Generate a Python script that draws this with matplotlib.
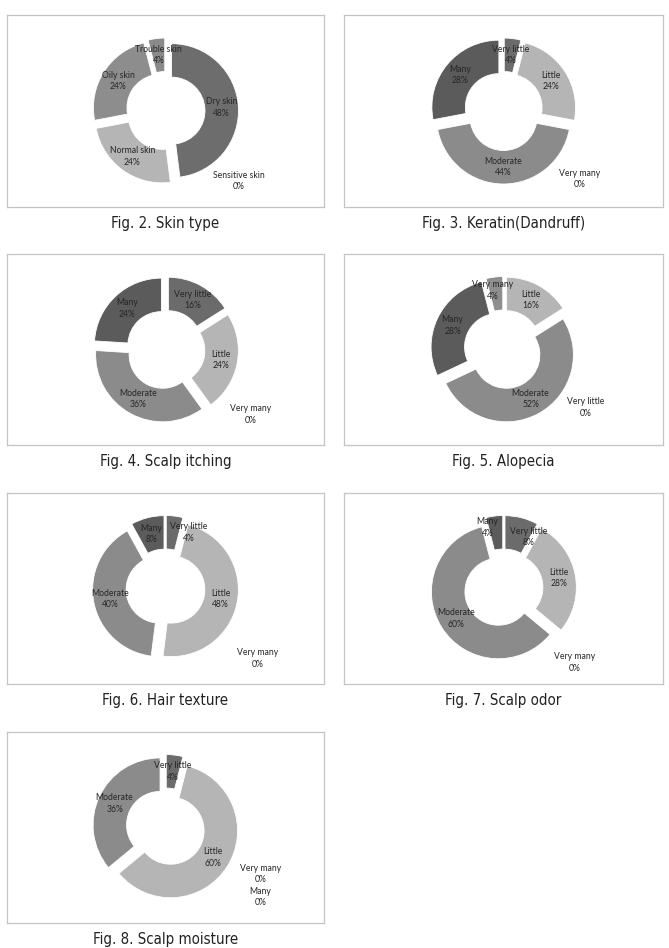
import matplotlib.pyplot as plt
import numpy as np

# ---- data ------------------------------------------------------------------
SKIN_LABELS = ["Dry skin", "Sensitive skin", "Normal skin", "Oily skin", "Trouble skin"]
SKIN_VALUES = [48, 0, 24, 24, 4]

LEVELS = ["Very little", "Little", "Moderate", "Many", "Very many"]
KERATIN_VALUES = [4, 24, 44, 28, 0]
ITCHING_VALUES = [16, 24, 36, 24, 0]
ALOPECIA_VALUES = [0, 16, 52, 28, 4]
TEXTURE_VALUES = [4, 48, 40, 8, 0]
ODOR_VALUES = [8, 28, 60, 4, 0]
MOISTURE_VALUES = [4, 60, 36, 0, 0]

CAPTIONS = [
    "Fig. 2. Skin type",
    "Fig. 3. Keratin(Dandruff)",
    "Fig. 4. Scalp itching",
    "Fig. 5. Alopecia",
    "Fig. 6. Hair texture",
    "Fig. 7. Scalp odor",
    "Fig. 8. Scalp moisture",
]

# ---- styles ----------------------------------------------------------------
SKIN_COLORS = ["#6d6d6d", "#b5b5b5", "#b5b5b5", "#8d8d8d", "#8a8a8a"]
LEVEL_COLORS = ["#6b6b6b", "#b5b5b5", "#8b8b8b", "#5b5b5b", "#8e8e8e"]
TEXT_COLOR = "#262626"

W, H = 669, 948
# panel boxes in pixels: (left, top, right, bottom)
BOXES = [
    (7, 15, 324, 207), (344, 15, 663, 207),
    (7, 254, 324, 445), (344, 254, 663, 445),
    (7, 493, 324, 684), (344, 493, 663, 684),
    (7, 732, 324, 923),
]
# where the 0% labels sit, pixels from the donut centre (right, down)
ZERO_POS = [(73, 70), (76, 68), (85, 65), (82, 58), (92, 70), (71, 74), (95, 58)]
# small shifts Excel applied to crowded labels (pixels, right/down)
NUDGES = {(4, "Very little"): (16, 0), (5, "Very little"): (11, 3),
          (5, "Many"): (-9, -5), (3, "Very many"): (-4, -3)}

RADIUS = 67
EXPLODE = 6
RING = 0.5

CHARTS = [
    (SKIN_LABELS, SKIN_VALUES, SKIN_COLORS),
    (LEVELS, KERATIN_VALUES, LEVEL_COLORS),
    (LEVELS, ITCHING_VALUES, LEVEL_COLORS),
    (LEVELS, ALOPECIA_VALUES, LEVEL_COLORS),
    (LEVELS, TEXTURE_VALUES, LEVEL_COLORS),
    (LEVELS, ODOR_VALUES, LEVEL_COLORS),
    (LEVELS, MOISTURE_VALUES, LEVEL_COLORS),
]

fig = plt.figure(figsize=(W / 100, H / 100), dpi=100)
fig.patch.set_facecolor("white")

for i, ((labels, values, colors), box, caption) in enumerate(zip(CHARTS, BOXES, CAPTIONS)):
    x0, y0, x1, y1 = box
    bw, bh = x1 - x0, y1 - y0
    ax = fig.add_axes([x0 / W, 1 - y1 / H, bw / W, bh / H])

    keep = [k for k, v in enumerate(values) if v > 0]
    wedges, _ = ax.pie(
        [values[k] for k in keep],
        colors=[colors[k] for k in keep],
        radius=RADIUS,
        explode=[EXPLODE] * len(keep),
        startangle=90,
        counterclock=False,
        wedgeprops=dict(width=RADIUS * RING, edgecolor="white", linewidth=0.6),
    )
    for k, w in zip(keep, wedges):
        mid = np.deg2rad((w.theta1 + w.theta2) / 2)
        cx, cy = w.center
        dx, dy = NUDGES.get((i, labels[k]), (0, 0))
        tx = cx + 0.75 * w.r * np.cos(mid) + dx
        ty = cy + 0.75 * w.r * np.sin(mid) - dy
        ax.text(tx, ty, f"{labels[k]}\n{values[k]}%", ha="center", va="center",
                fontsize=6.2, family="Lato", color=TEXT_COLOR, linespacing=1.35)

    zeros = [f"{labels[k]}\n{values[k]}%" for k, v in enumerate(values) if v == 0]
    if zeros:
        zx, zy = ZERO_POS[i]
        ax.text(zx, -zy, "\n".join(reversed(zeros)), ha="center", va="center",
                fontsize=6.2, family="Lato", color=TEXT_COLOR, linespacing=1.35)

    ax.set_xlim(-bw / 2, bw / 2)
    ax.set_ylim(-bh / 2, bh / 2)
    ax.set_aspect("auto")
    ax.set_frame_on(True)
    ax.set_xticks([])
    ax.set_yticks([])
    for sp in ax.spines.values():
        sp.set_color("#c4c4c4")
        sp.set_linewidth(0.9)

    fig.text((x0 + x1) / 2 / W, 1 - (y1 + 16.5) / H, caption, ha="center", va="center",
             fontsize=10.8, family="DejaVu Sans", fontstretch="condensed", color="#222222")

fig.savefig("out.png", dpi=100, facecolor="white")
